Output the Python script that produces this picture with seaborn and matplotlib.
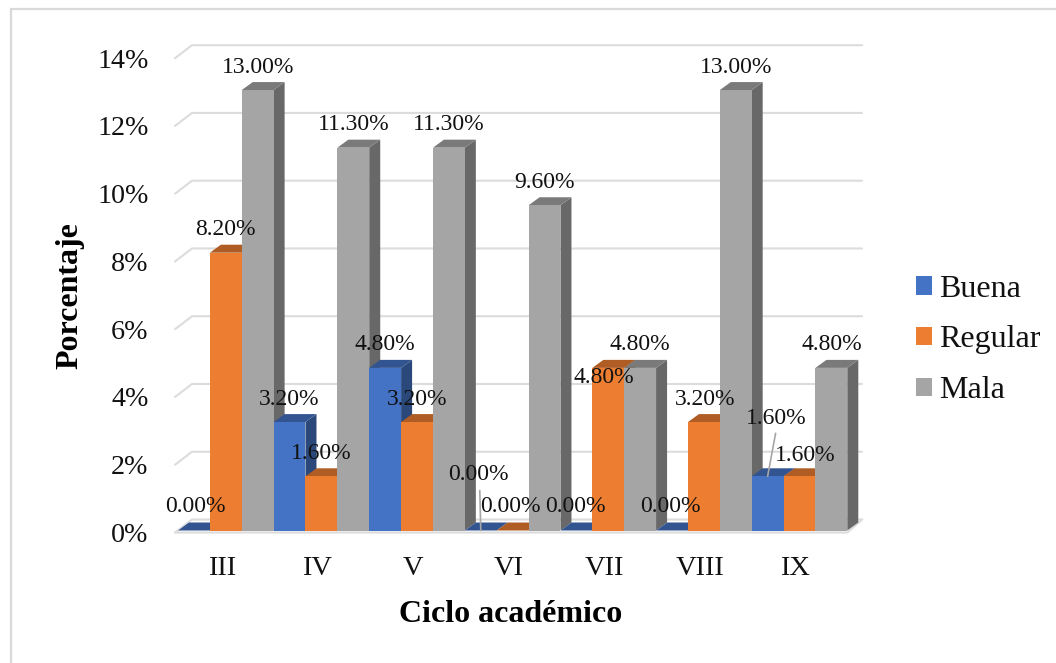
import matplotlib
matplotlib.use("Agg")
import matplotlib.pyplot as plt
import numpy as np
import pandas as pd
import seaborn as sns
from matplotlib.colors import to_rgb
from matplotlib.patches import Polygon, Rectangle
from matplotlib.transforms import ScaledTranslation

# Survey shares per academic cycle and rating
ciclos = ["III", "IV", "V", "VI", "VII", "VIII", "IX"]
buena = [0.0, 3.2, 4.8, 0.0, 0.0, 0.0, 1.6]
regular = [8.2, 1.6, 3.2, 0.0, 4.8, 3.2, 1.6]
mala = [13.0, 11.3, 11.3, 9.6, 4.8, 13.0, 4.8]
y_ticks = [0, 2, 4, 6, 8, 10, 12, 14]

series = {"Buena": buena, "Regular": regular, "Mala": mala}
palette = {"Buena": "#4472C4", "Regular": "#ED7D31", "Mala": "#A5A5A5"}

df = pd.DataFrame(
    [(c, name, v) for name, vals in series.items() for c, v in zip(ciclos, vals)],
    columns=["ciclo", "valoracion", "porcentaje"],
)

W, H = 1056, 663
sns.set_theme(style="white")
plt.rcParams["font.family"] = ["Liberation Serif", "DejaVu Serif"]

fig = plt.figure(figsize=(W / 100, H / 100), dpi=100, facecolor="white")

# Front plane of the pseudo-3D box, in figure pixels
left_px, right_px, base_px, top_px = 178.0, 847.3, 530.5, 56.2
ax = fig.add_axes([left_px / W, 1 - base_px / H, (right_px - left_px) / W, (base_px - top_px) / H])
ax.patch.set_alpha(0)

sns.barplot(
    data=df, x="ciclo", y="porcentaje", hue="valoracion", order=ciclos,
    hue_order=list(series), palette=palette, width=1, gap=0, saturation=1,
    linewidth=0, ax=ax, legend=True,
)
ax.set_xlim(-0.5, len(ciclos) - 0.5)
ax.set_ylim(0, 14)

px_x = (len(ciclos)) / (right_px - left_px)
px_y = 14 / (base_px - top_px)


def shade(color, factor):
    return tuple(c * factor for c in to_rgb(color))


# Back wall and side wall gridlines
grid_color = "#DCDCDC"
x0 = -0.5
for v in y_ticks:
    xs = [x0 - 3 * px_x, x0 + 14 * px_x, x0 + (862 - left_px) * px_x]
    ys = [v - 2 * px_y, v + 11 * px_y, v + 11 * px_y]
    ax.plot(xs, ys, color=grid_color, lw=1.5, zorder=1, clip_on=False)
x_end = len(ciclos) - 0.5
ax.plot([x0 - 3 * px_x, x_end, x_end + 15 * px_x], [-2 * px_y, -2 * px_y, 11 * px_y],
        color=grid_color, lw=1.5, zorder=1, clip_on=False)

# Depth faces for every bar; bars further right stack above earlier ones
depth_x, depth_y = 11 * px_x, 8 * px_y
bars = []
for container, name in zip(ax.containers, series):
    for patch, value in zip(container.patches, series[name]):
        bars.append((patch, name, value))
bars.sort(key=lambda b: b[0].get_x())

for k, (patch, name, value) in enumerate(bars):
    z = 3 + k * 0.1
    xa, xb = patch.get_x(), patch.get_x() + patch.get_width()
    color = palette[name]
    top = Polygon([(xa, value), (xb, value), (xb + depth_x, value + depth_y), (xa + depth_x, value + depth_y)],
                  closed=True, facecolor=shade(color, 0.74), edgecolor="none", zorder=z, clip_on=False)
    side = Polygon([(xb, 0), (xb + depth_x, depth_y), (xb + depth_x, value + depth_y), (xb, value)],
                   closed=True, facecolor=shade(color, 0.63), edgecolor="none", zorder=z, clip_on=False)
    ax.add_patch(side)
    ax.add_patch(top)
    patch.set_zorder(z + 0.01)

# Data labels: 23 px above the bar, except those moved by hand
nudges = {
    ("VI", "Buena"): (-2, 56), ("IX", "Buena"): (9, 58), ("IX", "Regular"): (6, 21),
    ("VII", "Regular"): (-4, -10), ("III", "Buena"): (1, 24), ("VI", "Regular"): (-2, 24),
    ("VII", "Buena"): (-1, 24), ("VIII", "Buena"): (-2, 24), ("VIII", "Regular"): (1, 23),
}
for patch, name, value in bars:
    cx = patch.get_x() + patch.get_width() / 2
    cycle = ciclos[int(round(cx))]
    dx, dy = nudges.get((cycle, name), (0, 23))
    ax.text(cx + dx * px_x, value + dy * px_y, f"{value:.2f}%", ha="center", va="center",
            fontsize=17, color="#111111", zorder=20, clip_on=False)

# Leader lines for the labels moved away from their bars
for cycle, name, dx, gap_top in (("VI", "Buena", -1, 40), ("IX", "Buena", 8, 43)):
    i = ciclos.index(cycle)
    patch = ax.containers[list(series).index(name)].patches[i]
    value = series[name][i]
    cx = patch.get_x() + patch.get_width() / 2
    ax.plot([cx, cx + dx * px_x], [value, value + gap_top * px_y], color="#A6A6A6", lw=1.2,
            zorder=19, clip_on=False)

# Axes text
ax.set_yticks(y_ticks)
ax.set_yticklabels([f"{v}%" for v in y_ticks], fontsize=20.2, color="#111111")
ax.set_xticks([i - 4 * px_x for i in range(len(ciclos))])
ax.set_xticklabels(ciclos, fontsize=20.5, color="#111111")
ax.tick_params(axis="both", length=0)
ax.tick_params(axis="y", pad=21.3)
ax.tick_params(axis="x", pad=18.7)
shift_down = ScaledTranslation(0, -2 / 100, fig.dpi_scale_trans)
for label in ax.get_yticklabels():
    label.set_transform(label.get_transform() + shift_down)
for spine in ax.spines.values():
    spine.set_visible(False)
ax.set_xlabel("")
ax.set_ylabel("")
fig.text(511 / W, 1 - 614 / H, "Ciclo académico", ha="center", va="center",
         fontsize=23, fontweight="bold", color="black")
fig.text(70 / W, 1 - 296 / H, "Porcentaje", ha="center", va="center", rotation=90,
         fontsize=23, fontweight="bold", color="black")

# Legend with square swatches
handles, labels = ax.get_legend_handles_labels()
ax.legend(
    handles, labels, loc="center left", bbox_to_anchor=(916 / W, 1 - 340 / H),
    bbox_transform=fig.transFigure, frameon=False, fontsize=23, handlelength=0.5,
    handleheight=0.5, handletextpad=0.22, labelspacing=0.68, borderpad=0, borderaxespad=0,
    labelcolor="#111111",
)

# Chart frame
fig.add_artist(Rectangle((11 / W, -0.02), 1.1, 1 - 9 / H + 0.02, transform=fig.transFigure,
                         facecolor="none", edgecolor="#D9D9D9", lw=1.6, zorder=-1))

fig.savefig("out.png", dpi=100)
